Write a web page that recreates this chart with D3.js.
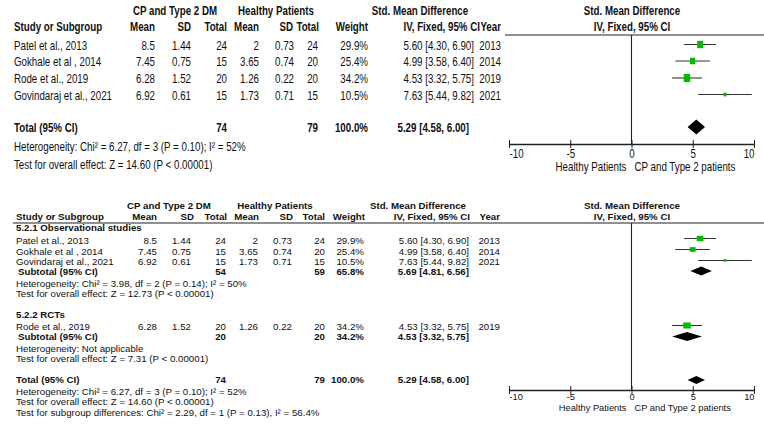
<!DOCTYPE html>
<html><head><meta charset="utf-8">
<script src="https://cdn.jsdelivr.net/npm/d3@7"></script>
<style>html,body{margin:0;padding:0;background:#fff;} svg{display:block;}</style>
</head><body>
<svg id="c" width="764" height="425"></svg>
<script>
// ---------------- data ----------------
const studies   = ["Patel et al., 2013","Gokhale et al , 2014","Rode et al., 2019","Govindaraj et al., 2021"];
const cpMean    = [8.5, 7.45, 6.28, 6.92];
const cpSD      = [1.44, 0.75, 1.52, 0.61];
const cpN       = [24, 15, 20, 15];
const hMean     = [2, 3.65, 1.26, 1.73];
const hSD       = [0.73, 0.74, 0.22, 0.71];
const hN        = [24, 20, 20, 15];
const weights   = [29.9, 25.4, 34.2, 10.5];
const smd       = [5.60, 4.99, 4.53, 7.63];
const ciLow     = [4.30, 3.58, 3.32, 5.44];
const ciHigh    = [6.90, 6.40, 5.75, 9.82];
const years     = [2013, 2014, 2019, 2021];
const subgroups = ["5.2.1 Observational studies", "5.2.2 RCTs"];
const subMembers= [[0, 1, 3], [2]];
const subN1     = [54, 20];
const subN2     = [59, 20];
const subWeight = [65.8, 34.2];
const subEst    = [5.69, 4.53];
const subLow    = [4.81, 3.32];
const subHigh   = [6.56, 5.75];
const subHet    = ["Heterogeneity: Chi\u00B2 = 3.98, df = 2 (P = 0.14); I\u00B2 = 50%", "Heterogeneity: Not applicable"];
const subTest   = ["Test for overall effect: Z = 12.73 (P < 0.00001)", "Test for overall effect: Z = 7.31 (P < 0.00001)"];
const totN1 = 74, totN2 = 79, totWeight = 100.0;
const totEst = 5.29, totLow = 4.58, totHigh = 6.00;
const totHet  = "Heterogeneity: Chi\u00B2 = 6.27, df = 3 (P = 0.10); I\u00B2 = 52%";
const totTest = "Test for overall effect: Z = 14.60 (P < 0.00001)";
const subDiff = "Test for subgroup differences: Chi\u00B2 = 2.29, df = 1 (P = 0.13), I\u00B2 = 56.4%";
const tickValues = [-10, -5, 0, 5, 10];
const favLeft = "Healthy Patients", favRight = "CP and Type 2 patients";

// ---------------- helpers ----------------
const svg = d3.select("#c");
const REG = "'Liberation Sans',Arial,sans-serif";
const GREEN = "#00bb00";
const fmt2 = d => d.toFixed(2);
const ciStr = (e, l, h) => `${fmt2(e)} [${fmt2(l)}, ${fmt2(h)}]`;
const pct = w => w.toFixed(1) + "%";

function txt(g, x, y, s, o = {}) {
  const sx = o.sx || 1;
  const t = g.append("text").attr("x", x / sx).attr("y", y).text(s)
    .attr("text-anchor", o.anchor || "start")
    .attr("font-family", o.family)
    .attr("font-size", o.size)
    .attr("font-weight", o.bold ? "bold" : "normal")
    .attr("fill", "#111");
  if (sx !== 1) t.attr("transform", `scale(${sx},1)`);
  return t;
}
function diamond(g, x, y, e, l, h, ht) {
  g.append("path")
    .attr("d", `M${x(l)},${y}L${x(e)},${y - ht / 2}L${x(h)},${y}L${x(e)},${y + ht / 2}Z`)
    .attr("fill", "#000");
}
function study(g, x, y, i, sz, aspect) {
  g.append("line").attr("x1", x(ciLow[i])).attr("x2", x(ciHigh[i]))
    .attr("y1", y).attr("y2", y).attr("stroke", "#333").attr("stroke-width", 1.1);
  const w = sz(weights[i]), h = w * aspect;
  g.append("rect").attr("x", x(smd[i]) - w / 2).attr("y", y - h / 2)
    .attr("width", w).attr("height", h).attr("fill", GREEN);
}
function axis(g, x, y, fam, fs, sx, tickBase, labBase) {
  const ax = d3.axisBottom(x).tickValues(tickValues).tickSize(4).tickSizeOuter(0)
    .tickFormat(d => String(d));
  const a = g.append("g").attr("transform", `translate(0,${y})`).call(ax);
  a.select(".domain").attr("stroke", "#222").attr("stroke-width", 1.3);
  a.selectAll(".tick line").attr("y1", -4).attr("y2", 4).attr("stroke", "#222");
  a.selectAll(".tick text").attr("y", tickBase - y).attr("dy", 0)
    .attr("font-family", fam).attr("font-size", fs).attr("fill", "#111")
    .attr("transform", sx !== 1 ? `scale(${sx},1)` : null)
    .attr("text-anchor", d => d === tickValues[0] ? "start" : d === tickValues[tickValues.length - 1] ? "end" : "middle");
  txt(g, x(0) - 5, labBase, favLeft, {anchor: "end", family: fam, size: fs, sx});
  txt(g, x(0) + 3, labBase, favRight, {anchor: "start", family: fam, size: fs, sx});
}

// ---------------- TOP PANEL ----------------
{
  const g = svg.append("g");
  const F = REG, FS = 13, SX = 0.75;
  const o = (extra = {}) => Object.assign({family: F, size: FS, sx: SX}, extra);
  const x = d3.scaleLinear().domain([-10, 10]).range([509, 754]);
  const sz = d3.scaleLinear().domain([10.5, 34.2]).range([3, 6.5]);
  const cols = {m1: 155, s1: 191, n1: 227, m2: 259, s2: 294, n2: 318, w: 368, ci: 474, yr: 501};
  txt(g, 175, 15, "CP and Type 2 DM", o({anchor: "middle", bold: true}));
  txt(g, 276, 15, "Healthy Patients", o({anchor: "middle", bold: true}));
  txt(g, 420, 15, "Std. Mean Difference", o({anchor: "middle", bold: true}));
  txt(g, 632, 15, "Std. Mean Difference", o({anchor: "middle", bold: true}));
  const hy = 31;
  txt(g, 14, hy, "Study or Subgroup", o({bold: true}));
  [["Mean", cols.m1], ["SD", cols.s1], ["Total", cols.n1], ["Mean", cols.m2], ["SD", cols.s2 - 1], ["Total", cols.n2 + 1], ["Weight", cols.w]]
    .forEach(([s, cx]) => txt(g, cx, hy, s, o({anchor: "end", bold: true})));
  txt(g, 480, hy, "IV, Fixed, 95% CI", o({anchor: "end", bold: true}));
  txt(g, 501, hy, "Year", o({anchor: "end", bold: true}));
  txt(g, 632, hy, "IV, Fixed, 95% CI", o({anchor: "middle", bold: true}));
  g.append("line").attr("x1", 505).attr("x2", 764).attr("y1", 35).attr("y2", 35).attr("stroke", "#222").attr("stroke-width", 1.2);

  const rowY = [44.5, 61, 78, 94.5];
  studies.forEach((s, i) => {
    const ty = rowY[i] + 5.5;
    txt(g, 14, ty, s, o());
    txt(g, cols.m1, ty, cpMean[i], o({anchor: "end"}));
    txt(g, cols.s1, ty, cpSD[i], o({anchor: "end"}));
    txt(g, cols.n1, ty, cpN[i], o({anchor: "end"}));
    txt(g, cols.m2, ty, hMean[i], o({anchor: "end"}));
    txt(g, cols.s2, ty, hSD[i], o({anchor: "end"}));
    txt(g, cols.n2, ty, hN[i], o({anchor: "end"}));
    txt(g, cols.w, ty, pct(weights[i]), o({anchor: "end"}));
    txt(g, cols.ci, ty, ciStr(smd[i], ciLow[i], ciHigh[i]), o({anchor: "end"}));
    txt(g, cols.yr, ty, years[i], o({anchor: "end"}));
  });
  const totY = 127;
  txt(g, 14, 132, "Total (95% CI)", o({bold: true}));
  txt(g, cols.n1, 132, totN1, o({anchor: "end", bold: true}));
  txt(g, cols.n2, 132, totN2, o({anchor: "end", bold: true}));
  txt(g, cols.w, 132, pct(totWeight), o({anchor: "end", bold: true}));
  txt(g, 469, 132, ciStr(totEst, totLow, totHigh), o({anchor: "end", bold: true}));
  txt(g, 14, 151, totHet, o());
  txt(g, 14, 169, totTest, o());

  const axY = 144;
  g.append("line").attr("x1", x(0)).attr("x2", x(0)).attr("y1", 35).attr("y2", axY).attr("stroke", "#222").attr("stroke-width", 1.1);
  studies.forEach((s, i) => study(g, x, rowY[i], i, sz, 1.25));
  diamond(g, x, totY, totEst, totLow, totHigh, 15);
  axis(g, x, axY, F, FS, SX, 158, 171);
}

// ---------------- BOTTOM PANEL ----------------
{
  const g = svg.append("g");
  const F = REG, FS = 9.3, SX = 1.045;
  const o = (extra = {}) => Object.assign({family: F, size: FS, sx: SX}, extra);
  const x = d3.scaleLinear().domain([-10, 10]).range([509, 754]);
  const sz = d3.scaleLinear().domain([10.5, 34.2]).range([3.2, 7.5]);
  const cols = {m1: 157, s1: 191, n1: 226, m2: 258, s2: 292, n2: 325, w: 364, ci: 469, yr: 500};
  const b = 3.5; // baseline offset from row centre
  txt(g, 169, 206 + b, "CP and Type 2 DM", o({anchor: "middle", bold: true}));
  txt(g, 275, 206 + b, "Healthy Patients", o({anchor: "middle", bold: true}));
  txt(g, 418, 206 + b, "Std. Mean Difference", o({anchor: "middle", bold: true}));
  txt(g, 632, 206 + b, "Std. Mean Difference", o({anchor: "middle", bold: true}));
  const hy = 217 + b;
  txt(g, 16, hy, "Study or Subgroup", o({bold: true}));
  [["Mean", 157], ["SD", 194], ["Total", 227], ["Mean", 259], ["SD", 293], ["Total", 325], ["Weight", 365]]
    .forEach(([s, cx]) => txt(g, cx, hy, s, o({anchor: "end", bold: true})));
  txt(g, 470, hy, "IV, Fixed, 95% CI", o({anchor: "end", bold: true}));
  txt(g, 500, hy, "Year", o({anchor: "end", bold: true}));
  txt(g, 632, hy, "IV, Fixed, 95% CI", o({anchor: "middle", bold: true}));
  g.append("line").attr("x1", 13).attr("x2", 764).attr("y1", 223).attr("y2", 223).attr("stroke", "#222").attr("stroke-width", 1.2);

  const layout = [
    {head: 228, rows: [241, 251.5, 261.5], marks: [238.5, 249.5, 260.5], sub: 271.5, het: 284, test: 294},
    {head: 315, rows: [327], marks: [325.5], sub: 337, het: 349, test: 359}
  ];
  subgroups.forEach((sg, k) => {
    const L = layout[k];
    txt(g, 16, L.head + b, sg, o({bold: true}));
    subMembers[k].forEach((i, j) => {
      const ty = L.rows[j] + b;
      txt(g, 16, ty, studies[i], o());
      txt(g, cols.m1, ty, cpMean[i], o({anchor: "end"}));
      txt(g, cols.s1, ty, cpSD[i], o({anchor: "end"}));
      txt(g, cols.n1, ty, cpN[i], o({anchor: "end"}));
      txt(g, cols.m2, ty, hMean[i], o({anchor: "end"}));
      txt(g, cols.s2, ty, hSD[i], o({anchor: "end"}));
      txt(g, cols.n2, ty, hN[i], o({anchor: "end"}));
      txt(g, cols.w, ty, pct(weights[i]), o({anchor: "end"}));
      txt(g, cols.ci, ty, ciStr(smd[i], ciLow[i], ciHigh[i]), o({anchor: "end"}));
      txt(g, cols.yr, ty, years[i], o({anchor: "end"}));
      study(g, x, L.marks[j], i, sz, 0.8);
    });
    const sy = L.sub + b;
    txt(g, 18, sy, "Subtotal (95% CI)", o({bold: true}));
    txt(g, cols.n1, sy, subN1[k], o({anchor: "end", bold: true}));
    txt(g, cols.n2, sy, subN2[k], o({anchor: "end", bold: true}));
    txt(g, cols.w, sy, pct(subWeight[k]), o({anchor: "end", bold: true}));
    txt(g, cols.ci, sy, ciStr(subEst[k], subLow[k], subHigh[k]), o({anchor: "end", bold: true}));
    diamond(g, x, L.sub - 0.5, subEst[k], subLow[k], subHigh[k], 9);
    txt(g, 16, L.het + b, subHet[k], o());
    txt(g, 16, L.test + b, subTest[k], o());
  });
  const ty = 380;
  txt(g, 16, ty + b, "Total (95% CI)", o({bold: true}));
  txt(g, cols.n1, ty + b, totN1, o({anchor: "end", bold: true}));
  txt(g, cols.n2, ty + b, totN2, o({anchor: "end", bold: true}));
  txt(g, cols.w, ty + b, pct(totWeight), o({anchor: "end", bold: true}));
  txt(g, cols.ci, ty + b, ciStr(totEst, totLow, totHigh), o({anchor: "end", bold: true}));
  txt(g, 16, 392 + b, totHet, o());
  txt(g, 16, 402 + b, totTest, o());
  txt(g, 16, 413 + b, subDiff, o());

  const axY = 390;
  g.append("line").attr("x1", x(0)).attr("x2", x(0)).attr("y1", 223).attr("y2", axY).attr("stroke", "#222").attr("stroke-width", 1.1);
  diamond(g, x, ty, totEst, totLow, totHigh, 8);
  axis(g, x, axY, F, FS, 1, 400, 410.5);
}
</script>
</body></html>
